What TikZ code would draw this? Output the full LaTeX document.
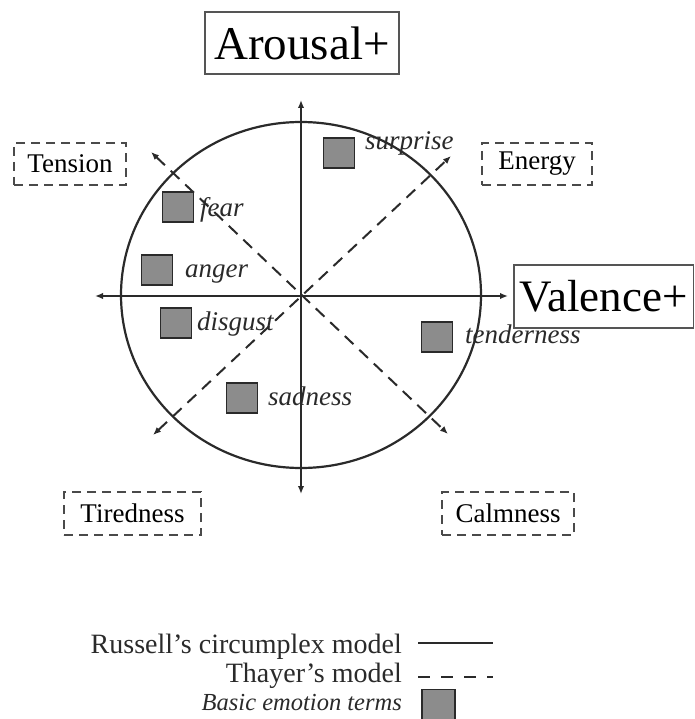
\documentclass[tikz,border=0pt]{standalone}
\usepackage{fontspec}
\setmainfont{Liberation Serif}
\usetikzlibrary{arrows.meta}
\definecolor{ink}{HTML}{2A2A2A}
\definecolor{boxgray}{HTML}{8C8C8C}
\tikzset{
  solidbox/.style={draw=ink!80, line width=1.5pt, inner sep=0pt, text=black},
  dbox/.style={draw=ink!85, line width=1.9pt, dash pattern=on 9pt off 6pt, inner sep=0pt, text=black, font=\fontsize{27}{27}\selectfont},
  emo/.style={draw=ink, fill=boxgray, line width=1.7pt, minimum width=31pt, minimum height=30pt, inner sep=0pt},
  emolabel/.style={anchor=base west, inner sep=0pt, font=\fontsize{27}{27}\selectfont\itshape, text=ink},
  legtext/.style={anchor=base east, inner sep=0pt, font=\fontsize{28}{28}\selectfont, text=ink},
  axis/.style={line width=2pt, draw=ink, {Latex[length=8pt,width=6.5pt]}-{Latex[length=8pt,width=6.5pt]}},
  thayer/.style={line width=2pt, draw=ink, dash pattern=on 12pt off 8pt, {Latex[length=8pt,width=6.5pt]}-{Latex[length=8pt,width=6.5pt]}}
}
\begin{document}
\begin{tikzpicture}[x=1pt,y=-1pt]
\useasboundingbox (0,0) rectangle (694,719);
% axis labels
\node[solidbox, minimum width=194pt, minimum height=62pt, font=\fontsize{47}{47}\selectfont] (arousal) at (302,43) {Arousal+};
\node[solidbox, anchor=west, minimum height=63pt, inner xsep=6pt, font=\fontsize{45}{45}\selectfont] (valence) at (513,296.5) {Valence+};
% circle
\coordinate (o) at (301,295);
\draw[line width=2.2pt, ink] (o) ellipse [x radius=180pt, y radius=173pt];
% axes
\coordinate (xl) at (95,296);
\coordinate (xr) at (508,296);
\coordinate (yt) at (301,100);
\coordinate (yb) at (301,494);
\draw[axis] (xl) -- (xr);
\draw[axis] (yt) -- (yb);
% Thayer diagonals
\coordinate (nw) at (151,152);
\coordinate (se) at (448,434);
\coordinate (sw) at (153,435);
\coordinate (ne) at (451,156);
\draw[thayer] (nw) -- (se);
\draw[thayer] (sw) -- (ne);
% Thayer boxes
\node[dbox, minimum width=112pt, minimum height=42pt] (tension) at (70,164) {Tension};
\node[dbox, minimum width=110pt, minimum height=42pt] (energy) at (537,164) {Energy};
\node[dbox, minimum width=137pt, minimum height=43pt] (tiredness) at (132.5,513.5) {Tiredness};
\node[dbox, minimum width=132pt, minimum height=43pt] (calmness) at (508,513.5) {Calmness};
% basic emotions
\node[emo] (fear) at (178,207) {};
\node[emo] (anger) at (157,270) {};
\node[emo] (disgust) at (176,323) {};
\node[emo] (surprise) at (339,153) {};
\node[emo] (tenderness) at (437,337) {};
\node[emo] (sadness) at (242,398) {};
\node[emolabel] (lfear) at (200,217) {fear};
\node[emolabel] (langer) at (185,277) {anger};
\node[emolabel] (ldisgust) at (197,330) {disgust};
\node[emolabel] (lsurprise) at (365,150) {surprise};
\node[emolabel] (ltenderness) at (465,343) {tenderness};
\node[emolabel] (lsadness) at (268,405) {sadness};
% legend
\node[legtext] (lrussell) at (402,653) {Russell’s circumplex model};
\node[legtext] (lthayer) at (402,682) {Thayer’s model};
\node[legtext, font=\fontsize{24.5}{24.5}\selectfont\itshape] (lbasic) at (402,710) {Basic emotion terms};
\coordinate (r1) at (418,643);
\coordinate (r2) at (493,643);
\coordinate (t1) at (418,677);
\coordinate (t2) at (493,677);
\draw[line width=2pt, ink] (r1) -- (r2);
\draw[line width=2pt, ink, dash pattern=on 12pt off 11pt] (t1) -- (t2);
\node[emo, minimum width=33pt, minimum height=31pt] (legsq) at (438.5,705) {};
\end{tikzpicture}
\end{document}
